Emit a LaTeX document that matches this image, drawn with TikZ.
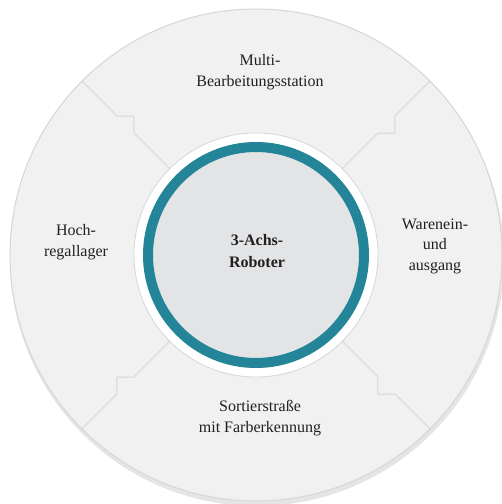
\documentclass[tikz,border=0pt]{standalone}
\usepackage{fontspec}
\setmainfont{Liberation Serif}
\usetikzlibrary{positioning}
\definecolor{robotteal}{RGB}{35,133,151}
\definecolor{ringgray}{RGB}{241,241,241}
\definecolor{linegray}{RGB}{214,214,214}
\definecolor{hubgray}{RGB}{227,228,230}
\definecolor{textgray}{RGB}{32,32,32}

\begin{document}
\begin{tikzpicture}[x=1pt, y=1pt, every node/.style={text=textgray, align=center},
  station/.style={inner sep=0pt, font=\fontsize{16}{20.5}\selectfont},
  divider/.style={draw=linegray, line width=1pt},
  hub/.style={circle, draw=robotteal, line width=10pt, fill=hubgray, minimum size=216pt, inner sep=0pt}]
        \useasboundingbox (-256,-249) rectangle (246,255);
        % ring and shadow
        \fill[black, opacity=.10] (1,-4) circle (247);
        \filldraw[fill=ringgray, draw=linegray, line width=1pt] (0,0) circle (246);
        \foreach \a in {0,90,180,270}
            \draw[divider, rotate=\a] (45:122) -- (122,122) -- (139,122) -- (139,139) -- (45:246);
        \filldraw[fill=white, draw=linegray, line width=.8pt] (0,0) circle (122);
        % robot in the middle
        \node[hub]                    (hub)   at (0,0)      {};
        \node[inner sep=0pt, font=\bfseries\fontsize{16}{22}\selectfont] (robot) at (1,4) {3-Achs-\\Roboter};
        % stations
        \node[station]   (multi)   at (4,183)    {Multi-\\Bearbeitungsstation};
        \node[station]   (lager)   at (-180,13)  {Hoch-\\regallager};
        \node[station]   (waren)   at (179,9)    {Warenein-\\und\\ausgang};
        \node[station]   (sortier) at (4,-163)   {Sortierstraße\\mit Farberkennung};
\end{tikzpicture}
\end{document}
